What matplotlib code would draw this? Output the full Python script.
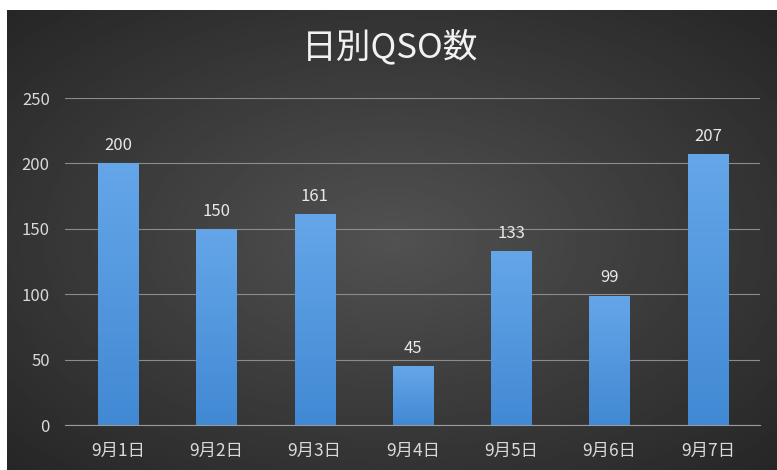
import numpy as np
import matplotlib
matplotlib.use("Agg")
from matplotlib import pyplot as plt

plt.rcParams['font.family'] = ['Noto Sans CJK JP', 'DejaVu Sans']

days = ['9月1日', '9月2日', '9月3日', '9月4日', '9月5日', '9月6日', '9月7日']
qso = [200, 150, 161, 45, 133, 99, 207]
yticks = [0, 50, 100, 150, 200, 250]

fig = plt.figure(figsize=(7.77, 4.70), dpi=100)
fig.patch.set_facecolor('white')

# dark radial background
bg = fig.add_axes([7 / 777, 0, 770 / 777, 460 / 470])
yy, xx = np.mgrid[-1:1:200j, -1:1:300j]
r = np.sqrt(xx ** 2 + yy ** 2) / np.sqrt(2)
bg.imshow(0.32 - 0.17 * r, cmap='gray', vmin=0, vmax=1, aspect='auto',
          extent=[0, 1, 0, 1])
bg.set_axis_off()

ax = fig.add_axes([65 / 777, 45 / 470, 695 / 777, 327 / 470])
ax.patch.set_alpha(0)
x = np.arange(len(days))
bars = ax.bar(x, qso, width=0.41, color='#4f94dc', zorder=3)

# vertical gradient inside each bar
grad = np.linspace(0, 1, 100).reshape(-1, 1)
cmap = matplotlib.colors.LinearSegmentedColormap.from_list('b', ['#4289d4', '#64a6e8'])
for b in bars:
    im = ax.imshow(grad, cmap=cmap, aspect='auto', origin='lower', zorder=3,
                   extent=[b.get_x(), b.get_x() + b.get_width(), 0, b.get_height()])
    im.set_clip_path(b)

for xi, v in zip(x, qso):
    ax.text(xi, v + 7, str(v), ha='center', va='bottom', color='#e8e8e8', fontsize=12)

ax.set_xlim(-0.54, 6.53)
ax.set_ylim(0, 250)
ax.set_yticks(yticks)
ax.set_xticks(x)
ax.set_xticklabels(days)
ax.grid(axis='y', color='#8c8c8c', linewidth=0.8, zorder=1)
ax.tick_params(axis='both', length=0, colors='#d9d9d9', labelsize=12)
ax.tick_params(axis='x', labelsize=12.5, pad=12)
ax.tick_params(axis='y', pad=11)
for s in ['top', 'right', 'left']:
    ax.spines[s].set_visible(False)
ax.spines['bottom'].set_color('#9a9a9a')

fig.text(390 / 777, 1 - 48 / 470, '日別QSO数', ha='center', va='center',
         color='#f2f2f2', fontsize=25)

fig.savefig('out.png', dpi=100)
